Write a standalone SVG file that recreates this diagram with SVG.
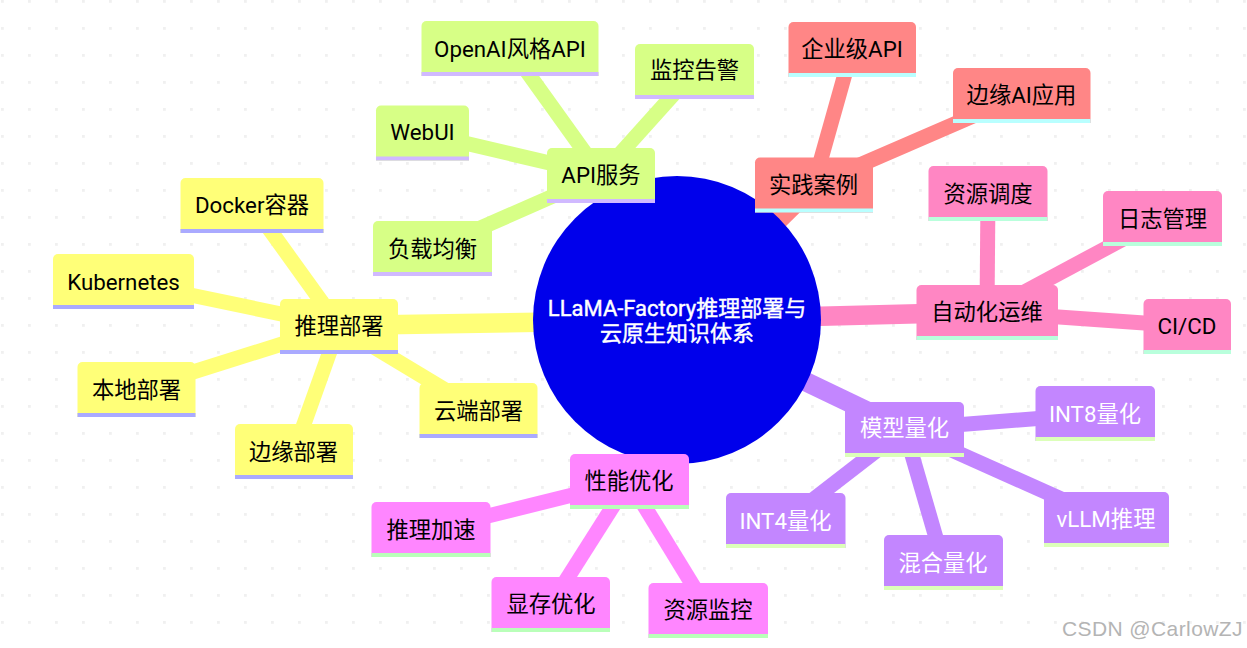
<svg xmlns="http://www.w3.org/2000/svg" width="1247" height="648" viewBox="0 0 1247 648">
<style>
text{font-family:"Roboto","Noto Sans CJK SC",sans-serif;font-size:22.3px;text-anchor:middle;fill:#000}
.b1 path{fill:#ffff78}.b1 rect{fill:#aaaaff}
.b2 path{fill:#d7ff86}.b2 rect{fill:#d0b9ff}
.b3 path{fill:#ff8686}.b3 rect{fill:#b9ffff}
.b4 path{fill:#ff86c3}.b4 rect{fill:#b9ffdc}
.b5 path{fill:#c386ff}.b5 rect{fill:#dcffb9}.b5 text{fill:#fff}
.b6 path{fill:#ff86ff}.b6 rect{fill:#b9ffb9}
#connectors line{fill:none;stroke-linecap:butt}
.e{stroke-width:15}.r{stroke-width:19.5}
.c1{stroke:#ffff78}.c2{stroke:#d7ff86}.c3{stroke:#ff8686}.c4{stroke:#ff86c3}.c5{stroke:#c386ff}.c6{stroke:#ff86ff}
#root text{fill:#fff;stroke:#fff;stroke-width:.4px;font-size:22px}
#watermark{font-family:"Liberation Sans",sans-serif;font-size:21px;fill:#b4b4b4;text-anchor:start;letter-spacing:.4px}
</style>
<defs>
<pattern id="dots" width="27" height="27" patternUnits="userSpaceOnUse" x="1" y="0"><rect width="2.8" height="2.8" fill="#f0f0f0"/></pattern>
</defs>
<rect width="1247" height="648" fill="#fff"/>
<rect width="1247" height="648" fill="url(#dots)"/>
<g id="connectors">
<line class="r c1" x1="677" y1="320" x2="339" y2="325.5"/>
<line class="r c2" x1="677" y1="320" x2="601" y2="175"/>
<line class="r c3" x1="677" y1="320" x2="813.7" y2="185"/>
<line class="r c4" x1="677" y1="320" x2="987" y2="312"/>
<line class="r c5" x1="677" y1="320" x2="904.5" y2="429"/>
<line class="r c6" x1="677" y1="320" x2="629" y2="481"/>
<line class="e c1" x1="339" y1="326" x2="252" y2="205"/>
<line class="e c1" x1="339" y1="326" x2="123" y2="281"/>
<line class="e c1" x1="339" y1="326" x2="136" y2="390"/>
<line class="e c1" x1="339" y1="326" x2="294" y2="452"/>
<line class="e c1" x1="339" y1="326" x2="478.5" y2="410"/>
<line class="e c2" x1="601" y1="175" x2="510" y2="48"/>
<line class="e c2" x1="601" y1="175" x2="694.5" y2="71"/>
<line class="e c2" x1="601" y1="175" x2="422" y2="133"/>
<line class="e c2" x1="601" y1="175" x2="432.5" y2="249"/>
<line class="e c3" x1="813.7" y1="185" x2="852" y2="49"/>
<line class="e c3" x1="813.7" y1="185" x2="1021.5" y2="95"/>
<line class="e c4" x1="987" y1="312" x2="988" y2="193"/>
<line class="e c4" x1="987" y1="312" x2="1162.5" y2="218"/>
<line class="e c4" x1="987" y1="312" x2="1187" y2="326"/>
<line class="e c5" x1="904.5" y1="429" x2="1095" y2="414"/>
<line class="e c5" x1="904.5" y1="429" x2="1106" y2="519"/>
<line class="e c5" x1="904.5" y1="429" x2="943" y2="562"/>
<line class="e c5" x1="904.5" y1="429" x2="785.5" y2="521"/>
<line class="e c6" x1="629" y1="481" x2="431" y2="530"/>
<line class="e c6" x1="629" y1="481" x2="551" y2="604"/>
<line class="e c6" x1="629" y1="481" x2="708" y2="610"/>
</g>
<g id="root"><circle cx="677" cy="320" r="144" fill="#0000eb"/>
<text x="677" y="316">LLaMA-Factory推理部署与</text>
<text x="677" y="341">云原生知识体系</text></g>
<g id="n-deploy" class="b1"><path d="M280 354V304a5 5 0 0 1 5-5H393a5 5 0 0 1 5 5V354Z"/><rect x="280" y="350" width="118" height="4"/><text x="339" y="334">推理部署</text></g>
<g id="n-docker" class="b1"><path d="M180.500 233V183a5 5 0 0 1 5-5H318.500a5 5 0 0 1 5 5V233Z"/><rect x="180.500" y="229" width="143" height="4"/><text x="252" y="213">Docker容器</text></g>
<g id="n-k8s" class="b1"><path d="M53 309V259a5 5 0 0 1 5-5H189a5 5 0 0 1 5 5V309Z"/><rect x="53" y="305" width="141" height="4"/><text x="123.500" y="290">Kubernetes</text></g>
<g id="n-local" class="b1"><path d="M77.500 417V367a5 5 0 0 1 5-5H190.500a5 5 0 0 1 5 5V417Z"/><rect x="77.500" y="413" width="118" height="4"/><text x="136.500" y="398">本地部署</text></g>
<g id="n-edge" class="b1"><path d="M235 479V429a5 5 0 0 1 5-5H348a5 5 0 0 1 5 5V479Z"/><rect x="235" y="475" width="118" height="4"/><text x="293.500" y="460">边缘部署</text></g>
<g id="n-cloud" class="b1"><path d="M419.500 438V388a5 5 0 0 1 5-5H532.500a5 5 0 0 1 5 5V438Z"/><rect x="419.500" y="434" width="118" height="4"/><text x="478.500" y="419">云端部署</text></g>
<g id="n-api" class="b2"><path d="M547 203V153a5 5 0 0 1 5-5H650a5 5 0 0 1 5 5V203Z"/><rect x="547" y="199" width="108" height="4"/><text x="601" y="183">API服务</text></g>
<g id="n-openai" class="b2"><path d="M421.500 76V26a5 5 0 0 1 5-5H593.500a5 5 0 0 1 5 5V76Z"/><rect x="421.500" y="72" width="177" height="4"/><text x="510" y="57">OpenAI风格API</text></g>
<g id="n-monitor" class="b2"><path d="M635 99V49a5 5 0 0 1 5-5H749a5 5 0 0 1 5 5V99Z"/><rect x="635" y="95" width="119" height="4"/><text x="694.500" y="78">监控告警</text></g>
<g id="n-webui" class="b2"><path d="M376 160.500V110.500a5 5 0 0 1 5-5H464a5 5 0 0 1 5 5V160.500Z"/><rect x="376" y="156.500" width="93" height="4"/><text x="422.500" y="140">WebUI</text></g>
<g id="n-lb" class="b2"><path d="M373 276V226a5 5 0 0 1 5-5H487a5 5 0 0 1 5 5V276Z"/><rect x="373" y="272" width="119" height="4"/><text x="432.500" y="257">负载均衡</text></g>
<g id="n-case" class="b3"><path d="M755 212.500V162.500a5 5 0 0 1 5-5H868a5 5 0 0 1 5 5V212.500Z"/><rect x="755" y="208.500" width="118" height="4"/><text x="813.500" y="193">实践案例</text></g>
<g id="n-ent" class="b3"><path d="M788.500 77V27a5 5 0 0 1 5-5H911a5 5 0 0 1 5 5V77Z"/><rect x="788.500" y="73" width="127.500" height="4"/><text x="852" y="57">企业级API</text></g>
<g id="n-edgeai" class="b3"><path d="M953 123V73a5 5 0 0 1 5-5H1085.500a5 5 0 0 1 5 5V123Z"/><rect x="953" y="119" width="137.500" height="4"/><text x="1021.500" y="103">边缘AI应用</text></g>
<g id="n-auto" class="b4"><path d="M916.500 340V290a5 5 0 0 1 5-5H1053a5 5 0 0 1 5 5V340Z"/><rect x="916.500" y="336" width="141.500" height="4"/><text x="987" y="320">自动化运维</text></g>
<g id="n-sched" class="b4"><path d="M928.500 221V171a5 5 0 0 1 5-5H1042.500a5 5 0 0 1 5 5V221Z"/><rect x="928.500" y="217" width="119" height="4"/><text x="988" y="202">资源调度</text></g>
<g id="n-log" class="b4"><path d="M1103 246V196a5 5 0 0 1 5-5H1217a5 5 0 0 1 5 5V246Z"/><rect x="1103" y="242" width="119" height="4"/><text x="1162.500" y="227">日志管理</text></g>
<g id="n-cicd" class="b4"><path d="M1143.500 354V304a5 5 0 0 1 5-5H1226a5 5 0 0 1 5 5V354Z"/><rect x="1143.500" y="350" width="87.500" height="4"/><text x="1187" y="334">CI/CD</text></g>
<g id="n-quant" class="b5"><path d="M845 457V407a5 5 0 0 1 5-5H959a5 5 0 0 1 5 5V457Z"/><rect x="845" y="453" width="119" height="4"/><text x="904.500" y="436">模型量化</text></g>
<g id="n-int8" class="b5"><path d="M1035.500 441V391a5 5 0 0 1 5-5H1150a5 5 0 0 1 5 5V441Z"/><rect x="1035.500" y="437" width="119.500" height="4"/><text x="1095" y="422">INT8量化</text></g>
<g id="n-vllm" class="b5"><path d="M1044 547V497a5 5 0 0 1 5-5H1164a5 5 0 0 1 5 5V547Z"/><rect x="1044" y="543" width="125" height="4"/><text x="1106" y="527">vLLM推理</text></g>
<g id="n-mixed" class="b5"><path d="M884 590V540a5 5 0 0 1 5-5H998a5 5 0 0 1 5 5V590Z"/><rect x="884" y="586" width="119" height="4"/><text x="943" y="571">混合量化</text></g>
<g id="n-int4" class="b5"><path d="M726 548V498a5 5 0 0 1 5-5H840.500a5 5 0 0 1 5 5V548Z"/><rect x="726" y="544" width="119.500" height="4"/><text x="785.500" y="529">INT4量化</text></g>
<g id="n-perf" class="b6"><path d="M570 509V459a5 5 0 0 1 5-5H684a5 5 0 0 1 5 5V509Z"/><rect x="570" y="505" width="119" height="4"/><text x="629" y="489">性能优化</text></g>
<g id="n-accel" class="b6"><path d="M371.500 557V507a5 5 0 0 1 5-5H485.500a5 5 0 0 1 5 5V557Z"/><rect x="371.500" y="553" width="119" height="4"/><text x="431" y="538">推理加速</text></g>
<g id="n-vram" class="b6"><path d="M491.500 632V582a5 5 0 0 1 5-5H605a5 5 0 0 1 5 5V632Z"/><rect x="491.500" y="628" width="118.500" height="4"/><text x="551" y="612">显存优化</text></g>
<g id="n-resmon" class="b6"><path d="M648.500 638V588a5 5 0 0 1 5-5H763a5 5 0 0 1 5 5V638Z"/><rect x="648.500" y="634" width="119.500" height="4"/><text x="708" y="618">资源监控</text></g>
<text id="watermark" x="1062" y="636">CSDN @CarlowZJ</text>
</svg>
